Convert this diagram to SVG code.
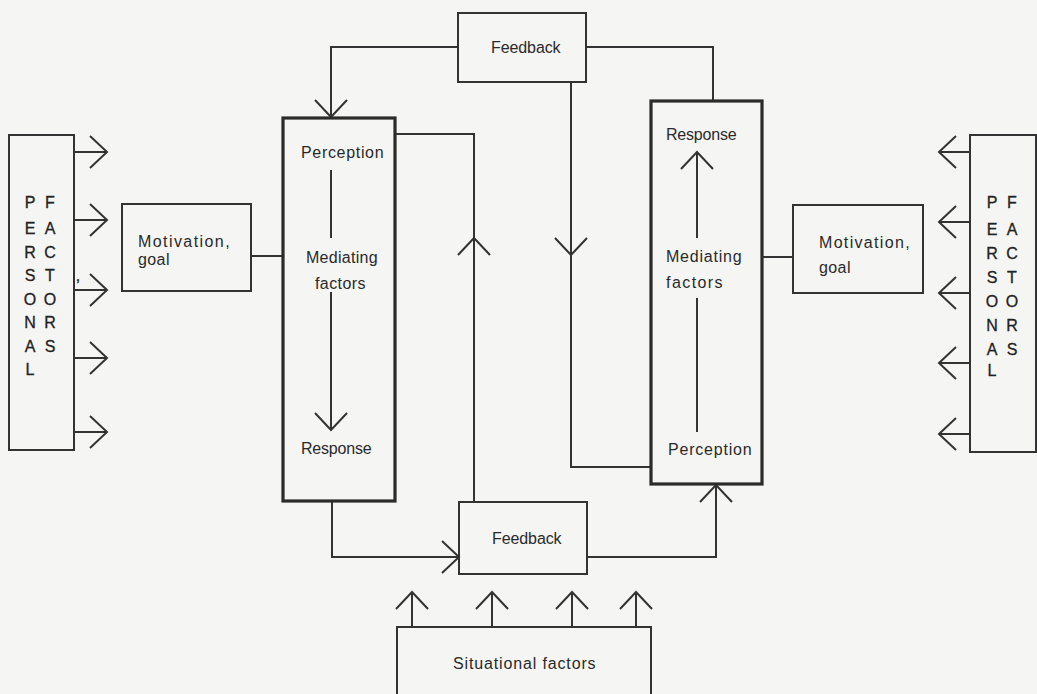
<svg xmlns="http://www.w3.org/2000/svg" width="1037" height="694" viewBox="0 0 1037 694">
<style>
.box{fill:none;stroke:#333;stroke-width:2}
.thick{fill:none;stroke:#2b2b2b;stroke-width:3.2}
.ln{fill:none;stroke:#333;stroke-width:2}
.t{font-family:"Liberation Sans",Arial,sans-serif;font-size:16px;fill:#2a2a2a;letter-spacing:0.4px}
.s{font-family:"Liberation Sans",Arial,sans-serif;font-size:16px;fill:#222;text-anchor:middle;stroke:#222;stroke-width:0.3}
</style>
<defs>
<marker id="arr" markerUnits="userSpaceOnUse" markerWidth="40" markerHeight="40" viewBox="-20 -20 40 40" refX="0" refY="0" orient="auto" overflow="visible">
<path d="M-17,-16 L0,0 L-17,16" fill="none" stroke="#333" stroke-width="2"/>
</marker>
</defs>
<rect width="1037" height="694" fill="#f5f5f3"/>

<g id="connectors">
<path class="ln" marker-end="url(#arr)" d="M74,152 H107"/>
<path class="ln" marker-end="url(#arr)" d="M74,220 H107"/>
<path class="ln" marker-end="url(#arr)" d="M74,290 H107"/>
<path class="ln" marker-end="url(#arr)" d="M74,358 H107"/>
<path class="ln" marker-end="url(#arr)" d="M74,432 H107"/>
<path class="ln" marker-end="url(#arr)" d="M970,152 H939"/>
<path class="ln" marker-end="url(#arr)" d="M970,222 H939"/>
<path class="ln" marker-end="url(#arr)" d="M970,293 H939"/>
<path class="ln" marker-end="url(#arr)" d="M970,363 H939"/>
<path class="ln" marker-end="url(#arr)" d="M970,434 H939"/>
<path class="ln" d="M251,256 H283"/>
<path class="ln" d="M762,257 H793"/>
<path class="ln" marker-end="url(#arr)" d="M458,47 H331 V117"/>
<path class="ln" d="M586,47 H713 V100"/>
<path class="ln" marker-end="url(#arr)" d="M571,82 V255"/>
<path class="ln" d="M571,255 V467 H650"/>
<path class="ln" marker-end="url(#arr)" d="M332,502 V557 H459"/>
<path class="ln" marker-end="url(#arr)" d="M474,502 V238"/>
<path class="ln" d="M474,238 V134 H395"/>
<path class="ln" marker-end="url(#arr)" d="M587,557 H716 V485"/>
<path class="ln" marker-end="url(#arr)" d="M412,627 V592"/>
<path class="ln" marker-end="url(#arr)" d="M492,627 V592"/>
<path class="ln" marker-end="url(#arr)" d="M572,627 V592"/>
<path class="ln" marker-end="url(#arr)" d="M636,627 V592"/>
<path class="ln" d="M331,170 V238"/>
<path class="ln" marker-end="url(#arr)" d="M331,292 V430"/>
<path class="ln" marker-end="url(#arr)" d="M697,238 V152"/>
<path class="ln" d="M697,298 V432"/>
</g>

<g id="personal-left">
<rect class="box" x="9" y="135" width="65" height="315"/>
<text class="s" x="30" y="208">P</text><text class="s" x="50" y="208">F</text>
<text class="s" x="30" y="234">E</text><text class="s" x="50" y="234">A</text>
<text class="s" x="30" y="257.5">R</text><text class="s" x="50" y="257.5">C</text>
<text class="s" x="30" y="281">S</text><text class="s" x="50" y="281">T</text>
<text class="s" x="30" y="304.5">O</text><text class="s" x="50" y="304.5">O</text>
<text class="s" x="30" y="328">N</text><text class="s" x="50" y="328">R</text>
<text class="s" x="30" y="351.5">A</text><text class="s" x="50" y="351.5">S</text>
<text class="s" x="30" y="375">L</text>
<text class="s" x="78" y="281">,</text>
</g>

<g id="motivation-left">
<rect class="box" x="122" y="204" width="129" height="87"/>
<text class="t" x="138" y="247" textLength="92">Motivation,</text>
<text class="t" x="138" y="265">goal</text>
</g>

<g id="mediating-left">
<rect class="thick" x="283" y="118" width="112" height="383"/>
<text class="t" x="301" y="158" textLength="83">Perception</text>
<text class="t" x="306" y="263" textLength="72">Mediating</text>
<text class="t" x="315" y="289">factors</text>
<text class="t" x="301" y="454" textLength="71">Response</text>
</g>

<g id="feedback-top">
<rect class="box" x="458" y="13" width="128" height="69"/>
<text class="t" x="491" y="53" textLength="70">Feedback</text>
</g>

<g id="mediating-right">
<rect class="thick" x="651" y="101" width="111" height="383"/>
<text class="t" x="666" y="140" textLength="71">Response</text>
<text class="t" x="666" y="262" textLength="76">Mediating</text>
<text class="t" x="666" y="288" textLength="57">factors</text>
<text class="t" x="668" y="455" textLength="84">Perception</text>
</g>

<g id="motivation-right">
<rect class="box" x="793" y="205" width="130" height="88"/>
<text class="t" x="819" y="248" textLength="91">Motivation,</text>
<text class="t" x="819" y="273">goal</text>
</g>

<g id="personal-right">
<rect class="box" x="970" y="135" width="66" height="317"/>
<text class="s" x="992" y="208">P</text><text class="s" x="1012" y="208">F</text>
<text class="s" x="992" y="235">E</text><text class="s" x="1012" y="235">A</text>
<text class="s" x="992" y="259">R</text><text class="s" x="1012" y="259">C</text>
<text class="s" x="992" y="283">S</text><text class="s" x="1012" y="283">T</text>
<text class="s" x="992" y="307">O</text><text class="s" x="1012" y="307">O</text>
<text class="s" x="992" y="331">N</text><text class="s" x="1012" y="331">R</text>
<text class="s" x="992" y="355">A</text><text class="s" x="1012" y="355">S</text>
<text class="s" x="992" y="376">L</text>
</g>

<g id="feedback-bottom">
<rect class="box" x="459" y="502" width="128" height="72"/>
<text class="t" x="492" y="544" textLength="70">Feedback</text>
</g>

<g id="situational">
<rect class="box" x="397" y="627" width="254" height="80"/>
<text class="t" x="453" y="669" textLength="143">Situational  factors</text>
</g>
</svg>
